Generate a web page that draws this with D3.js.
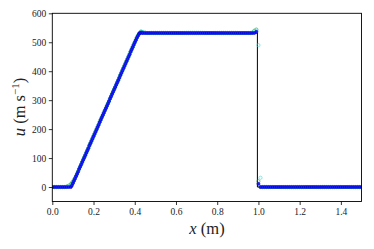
<!DOCTYPE html>
<html><head><meta charset="utf-8">
<script src="https://cdn.jsdelivr.net/npm/d3@7"></script>
<style>body{margin:0;background:#fff}svg{display:block}</style>
</head><body>
<svg id="c" width="374" height="249"></svg>
<script>
const xGrid = [0.00,0.01,0.02,0.03,0.04,0.05,0.06,0.07,0.08,0.09,
0.095,0.100,0.105,0.110,0.115,0.120,0.125,0.130,0.135,0.140,
0.145,0.150,0.155,0.160,0.165,0.170,0.175,0.180,0.185,0.190,
0.195,0.200,0.205,0.210,0.215,0.220,0.225,0.230,0.235,0.240,
0.245,0.250,0.255,0.260,0.265,0.270,0.275,0.280,0.285,0.290,
0.295,0.300,0.305,0.310,0.315,0.320,0.325,0.330,0.335,0.340,
0.345,0.350,0.355,0.360,0.365,0.370,0.375,0.380,0.385,0.390,
0.395,0.400,0.405,0.410,0.415,0.420,0.425,0.430,0.435,
0.44,0.45,0.46,0.47,0.48,0.49,
0.50,0.51,0.52,0.53,0.54,0.55,0.56,0.57,0.58,0.59,
0.60,0.61,0.62,0.63,0.64,0.65,0.66,0.67,0.68,0.69,
0.70,0.71,0.72,0.73,0.74,0.75,0.76,0.77,0.78,0.79,
0.80,0.81,0.82,0.83,0.84,0.85,0.86,0.87,0.88,0.89,
0.90,0.91,0.92,0.93,0.94,0.95,0.96,0.97,0.98,0.99,
1.00,1.01,1.02,1.03,1.04,1.05,1.06,1.07,1.08,1.09,
1.10,1.11,1.12,1.13,1.14,1.15,1.16,1.17,1.18,1.19,
1.20,1.21,1.22,1.23,1.24,1.25,1.26,1.27,1.28,1.29,
1.30,1.31,1.32,1.33,1.34,1.35,1.36,1.37,1.38,1.39,
1.40,1.41,1.42,1.43,1.44,1.45,1.46,1.47,1.48,1.49,1.50];

const uBlue = [0,0,0,0,0,0,0,0,0,0,
5,13,21,29,37,45,53,62,70,78,
86,94,102,110,118,126,134,143,151,159,
167,175,183,191,199,207,215,224,232,240,
248,256,264,272,280,288,296,305,313,321,
329,337,345,353,361,369,377,386,394,402,
410,418,426,434,442,450,458,467,475,483,
491,499,507,515,522,529,532,533,533,
532,532,532,532,532,532,
532,532,532,532,532,532,532,532,532,532,
532,532,532,532,532,532,532,532,532,532,
532,532,532,532,532,532,532,532,532,532,
532,532,532,532,532,532,532,532,532,532,
532,532,532,532,532,532,532,532,532,536,
11,0,0,0,0,0,0,0,0,0,
0,0,0,0,0,0,0,0,0,0,
0,0,0,0,0,0,0,0,0,0,
0,0,0,0,0,0,0,0,0,0,
0,0,0,0,0,0,0,0,0,0,0];

const uGreen = [0,0,0,0,0,0,0,2,5,10,
14,19,25,31,38,46,54,63,71,79,
87,95,103,111,119,127,135,144,152,160,
168,176,184,192,200,208,216,225,233,241,
249,257,265,273,281,289,297,306,314,322,
330,338,346,354,362,370,378,387,395,403,
411,419,427,435,443,451,459,468,476,484,
492,500,508,516,522,527,533,536,535,
534,533,532,532,532,532,
532,532,532,532,532,532,532,532,532,532,
532,532,532,532,532,532,532,532,532,532,
532,532,532,532,532,532,532,532,532,532,
532,532,532,532,532,532,532,532,532,532,
532,532,532,532,532,532,532,533,540,544,
20,0,0,0,0,0,0,0,0,0,
0,0,0,0,0,0,0,0,0,0,
0,0,0,0,0,0,0,0,0,0,
0,0,0,0,0,0,0,0,0,0,
0,0,0,0,0,0,0,0,0,0,0];

const uCyan = [0,0,0,0,0,0,0,0,2,6,
10,15,22,29,37,45,53,62,70,78,
86,94,102,110,118,126,134,143,151,159,
167,175,183,191,199,207,215,224,232,240,
248,256,264,272,280,288,296,305,313,321,
329,337,345,353,361,369,377,386,394,402,
410,418,426,434,442,450,458,467,475,483,
491,499,507,515,522,528,534,538,536,
534,533,532,532,532,532,
532,532,532,532,532,532,532,532,532,532,
532,532,532,532,532,532,532,532,532,532,
532,532,532,532,532,532,532,532,532,532,
532,532,532,532,532,532,532,532,532,532,
532,532,532,532,532,532,532,533,538,540,
490,32,0,0,0,0,0,0,0,0,
0,0,0,0,0,0,0,0,0,0,
0,0,0,0,0,0,0,0,0,0,
0,0,0,0,0,0,0,0,0,0,
0,0,0,0,0,0,0,0,0,0,0];

const xExact = [0, 0.094, 0.421, 0.995, 0.995, 1.5];
const uExact = [0, 0, 532, 532, 0, 0];

const xTicks = [0.0,0.2,0.4,0.6,0.8,1.0,1.2,1.4];
const yTicks = [0,100,200,300,400,500,600];

const svg = d3.select("#c");
const x = d3.scaleLinear().domain([0,1.5]).range([52.3,361.5]);
const y = d3.scaleLinear().domain([-50,600]).range([201.5,13.3]);
const font = "'Liberation Serif','DejaVu Serif',serif";

svg.append("clipPath").attr("id","cp").append("rect")
  .attr("x",x(0)).attr("y",y(600)).attr("width",x(1.5)-x(0)).attr("height",y(-50)-y(600));
const g = svg.append("g").attr("clip-path","url(#cp)");

g.append("path").datum(xExact.map((d,i)=>[d,uExact[i]]))
  .attr("d", d3.line().x(d=>x(d[0])).y(d=>y(d[1])))
  .attr("fill","none").attr("stroke","#000").attr("stroke-width",1);

function markers(vals, fill, stroke, r){
  g.append("g").selectAll("circle").data(xGrid.map((d,i)=>[d,vals[i]])).join("circle")
    .attr("cx",d=>x(d[0])).attr("cy",d=>y(d[1])).attr("r",r)
    .attr("fill",fill).attr("stroke",stroke).attr("stroke-width",0.6);
}
markers(uGreen, "none", "#2ca02c", 1.6);
markers(uCyan, "none", "#33dddd", 1.6);
markers(uBlue, "#1a1aff", "#0000c8", 1.5);

svg.append("rect").attr("x",x(0)).attr("y",y(600)).attr("width",x(1.5)-x(0)).attr("height",y(-50)-y(600))
  .attr("fill","none").attr("stroke","#000").attr("stroke-width",0.9);

const xa = svg.append("g").attr("transform",`translate(0,${y(-50)})`)
  .call(d3.axisBottom(x).tickValues(xTicks).tickFormat(d3.format(".1f")).tickSizeOuter(0).tickSize(3.5).tickPadding(3));
const ya = svg.append("g").attr("transform",`translate(${x(0)},0)`)
  .call(d3.axisLeft(y).tickValues(yTicks).tickFormat(d3.format("d")).tickSizeOuter(0).tickSize(3.5).tickPadding(2.5));
[xa,ya].forEach(a=>{
  a.select(".domain").remove();
  a.selectAll("line").attr("stroke","#000").attr("stroke-width",0.8);
  a.selectAll("text").attr("font-family",font).attr("font-size",9.5).attr("fill","#222");
});

svg.append("text").attr("x",207).attr("y",234).attr("text-anchor","middle")
  .attr("font-family",font).attr("font-size",16.5).attr("fill","#222")
  .call(t=>{t.append("tspan").attr("font-style","italic").text("x");t.append("tspan").text(" (m)");});

svg.append("text").attr("transform","translate(25,107) rotate(-90)").attr("text-anchor","middle")
  .attr("font-family",font).attr("font-size",16.5).attr("fill","#222")
  .call(t=>{t.append("tspan").attr("font-style","italic").text("u");
    t.append("tspan").text(" (m s");
    t.append("tspan").attr("font-size",11).attr("dy",-6.5).text("−1");
    t.append("tspan").attr("dy",6.5).text(")");});
</script>
</body></html>
